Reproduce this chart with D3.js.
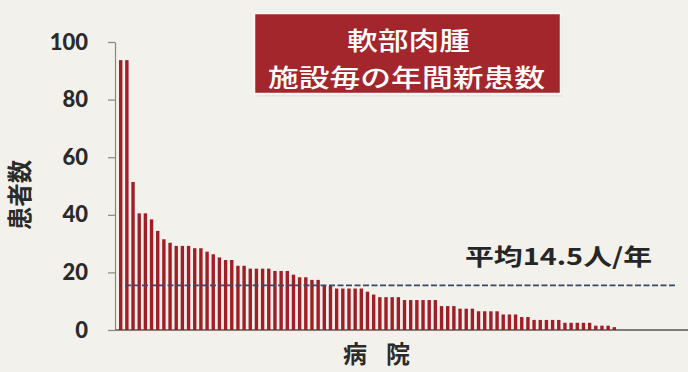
<!DOCTYPE html>
<html>
<head>
<meta charset="utf-8">
<script src="https://cdn.jsdelivr.net/npm/d3@7"></script>
<style>
  html, body { margin: 0; padding: 0; background: #f3f1ec; }
  svg { display: block; }
</style>
</head>
<body>
<svg id="chart" width="688" height="372"></svg>
<script>
// ---- data ----
const titleLines = ["軟部肉腫", "施設毎の年間新患数"];
const yAxisTitle = "患者数";
const xAxisTitle = "病院";
const meanLabel = "平均14.5人/年";
const meanLineValue = [15.5];
const yTicks = [0, 20, 40, 60, 80, 100];
const patientCounts = [
  93.7, 93.7, 51.4, 40.5, 40.5, 38.4, 34.4, 31.5, 30.3, 29.2,
  29.2, 29.2, 28.4, 28.4, 27.2, 26.3, 25.2, 24.3, 24.3, 22.3,
  22.3, 21.3, 21.3, 21.3, 21.3, 20.5, 20.5, 20.5, 19.2, 18.3,
  18.3, 17.4, 17.4, 15.6, 15.3, 14.4, 14.4, 14.4, 14.4, 14.4,
  13.3, 12.3, 11.4, 11.4, 11.4, 11.4, 10.4, 10.4, 10.4, 10.4,
  10.4, 10.4, 8.3, 8.3, 8.3, 7.4, 7.4, 7.4, 6.5, 6.5,
  6.5, 6.5, 5.4, 5.4, 5.4, 4.5, 4.5, 3.5, 3.5, 3.5,
  3.5, 3.5, 2.5, 2.5, 2.5, 2.5, 2.5, 1.5, 1.5, 1.5,
  1.0, 0, 0, 0, 0, 0, 0, 0, 0, 0,
  0, 0, 0, 0, 0
];
const hospitals = patientCounts.map((_, i) => "H" + (i + 1));

// ---- drawing ----
const svg = d3.select("#chart");
svg.append("rect").attr("width", 688).attr("height", 372).attr("fill", "#f3f1ec");

const step = 6.17;
const x = d3.scaleBand()
  .domain(hospitals)
  .range([119, 119 + step * (hospitals.length - 0.45)])
  .paddingInner(0.45)
  .paddingOuter(0);

const y = d3.scaleLinear().domain([0, 100]).range([330, 42]);

// baseline
svg.append("line")
  .attr("x1", 115).attr("x2", 688)
  .attr("y1", y(0)).attr("y2", y(0))
  .attr("stroke", "#5a5552").attr("stroke-width", 1.6);

// bars
svg.append("g").selectAll("rect")
  .data(patientCounts.map((v, i) => ({ h: hospitals[i], v })))
  .join("rect")
  .attr("x", d => x(d.h))
  .attr("width", x.bandwidth())
  .attr("y", d => y(d.v))
  .attr("height", d => y(0) - y(d.v))
  .attr("fill", "#a01e26");

// y axis
const yAxis = svg.append("g")
  .attr("transform", "translate(115,0)")
  .call(d3.axisLeft(y).tickValues(yTicks).tickSize(7).tickSizeOuter(0).tickPadding(20));
yAxis.select(".domain").attr("stroke", "#8a8683").attr("stroke-width", 1.2);
yAxis.selectAll(".tick line").attr("stroke", "#8a8683").attr("stroke-width", 1.2);
yAxis.selectAll(".tick text")
  .attr("fill", "#2a2a2a")
  .style("font-family", "Lato, 'DejaVu Sans', sans-serif")
  .style("font-weight", "900")
  .style("font-size", "22px");

// mean dashed line
svg.append("g").selectAll("line")
  .data(meanLineValue)
  .join("line")
  .attr("x1", 125).attr("x2", 677)
  .attr("y1", d => y(d)).attr("y2", d => y(d))
  .attr("stroke", "#3b4868").attr("stroke-width", 1.6)
  .attr("stroke-dasharray", "6,2.5");

// mean label
svg.append("text")
  .attr("x", 465).attr("y", 265)
  .attr("textLength", 187).attr("lengthAdjust", "spacingAndGlyphs")
  .attr("fill", "#262626")
  .style("font-family", "'Noto Sans CJK JP', sans-serif")
  .style("font-weight", "bold")
  .style("font-size", "23px")
  .text(meanLabel);

// title box
svg.append("rect")
  .attr("x", 255.5).attr("y", 15.5).attr("width", 307).attr("height", 81)
  .attr("fill", "#d8d4cf").attr("opacity", 0.6);
svg.append("rect")
  .attr("x", 254).attr("y", 13).attr("width", 307).attr("height", 81)
  .attr("fill", "#a3262d").attr("stroke", "#f7f5f2").attr("stroke-width", 2.5);

const titleY = [50, 87];
const titleX = [347, 268];
const titleW = [123, 277];
svg.append("g").selectAll("text")
  .data(titleLines)
  .join("text")
  .attr("x", (d, i) => titleX[i])
  .attr("y", (d, i) => titleY[i])
  .attr("textLength", (d, i) => titleW[i])
  .attr("lengthAdjust", "spacingAndGlyphs")
  .attr("fill", "#ffffff")
  .style("font-family", "'Noto Sans CJK JP', sans-serif")
  .style("font-weight", 500)
  .style("font-size", "25px")
  .text(d => d);

// y axis title (rotated)
svg.append("text")
  .attr("transform", "translate(29,195) rotate(-90)")
  .attr("text-anchor", "middle")
  .attr("textLength", 70).attr("lengthAdjust", "spacingAndGlyphs")
  .attr("fill", "#2b2b2b")
  .style("font-family", "'Noto Sans CJK JP', sans-serif")
  .style("font-weight", "bold")
  .style("font-size", "25px")
  .text(yAxisTitle);

// x axis title
svg.append("text")
  .attr("x", 343).attr("y", 363)
  .attr("textLength", 67).attr("lengthAdjust", "spacing")
  .attr("fill", "#2b2b2b")
  .style("font-family", "'Noto Sans CJK JP', sans-serif")
  .style("font-weight", "bold")
  .style("font-size", "24px")
  .text(xAxisTitle);
</script>
</body>
</html>
